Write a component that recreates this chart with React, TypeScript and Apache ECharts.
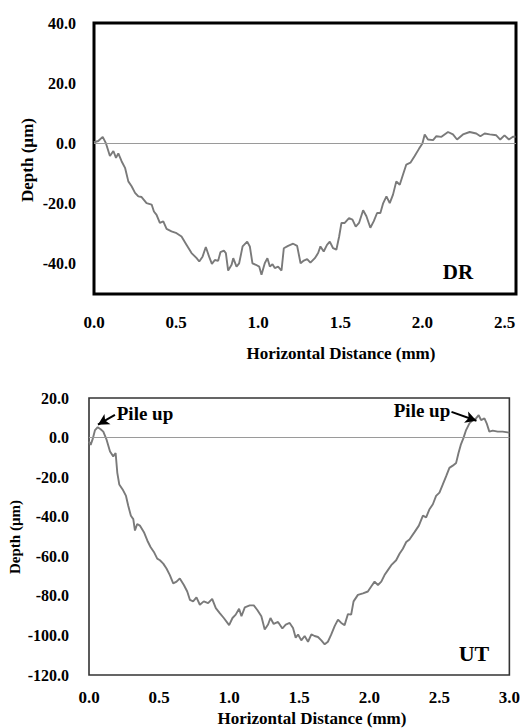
import React, { useEffect, useRef } from "react";
import * as echarts from "echarts";

// DR profile (top): horizontal distance (mm), depth (µm)
const drX = [0, 0.026, 0.053, 0.073, 0.097, 0.118, 0.134, 0.148, 0.168, 0.189, 0.209, 0.229, 0.25, 0.27, 0.29, 0.32, 0.351, 0.365, 0.381, 0.401, 0.422, 0.442, 0.472, 0.503, 0.533, 0.564, 0.594, 0.625, 0.641, 0.661, 0.681, 0.701, 0.718, 0.736, 0.756, 0.77, 0.791, 0.803, 0.817, 0.838, 0.848, 0.868, 0.884, 0.905, 0.933, 0.949, 0.965, 0.986, 1.006, 1.02, 1.04, 1.056, 1.071, 1.087, 1.101, 1.121, 1.142, 1.156, 1.182, 1.213, 1.237, 1.258, 1.278, 1.298, 1.318, 1.345, 1.365, 1.379, 1.399, 1.419, 1.436, 1.456, 1.476, 1.493, 1.507, 1.527, 1.553, 1.574, 1.594, 1.614, 1.639, 1.659, 1.683, 1.704, 1.724, 1.744, 1.76, 1.781, 1.801, 1.821, 1.841, 1.862, 1.882, 1.902, 1.927, 1.953, 1.979, 2.0, 2.014, 2.034, 2.065, 2.085, 2.116, 2.156, 2.186, 2.211, 2.247, 2.288, 2.328, 2.353, 2.379, 2.41, 2.45, 2.474, 2.5, 2.527, 2.551, 2.567];
const drY = [0.4, 0.8, 2.2, 0, -4.2, -2.5, -4.8, -3.3, -5.9, -8.1, -12.6, -14.2, -16.4, -17.6, -17.8, -19.8, -20.3, -22.6, -23.7, -26.4, -25.9, -28.4, -29.2, -29.8, -30.9, -33.7, -36.4, -38.1, -39.2, -37.6, -34.4, -37.6, -40, -38.7, -39, -36.1, -35.6, -36.4, -42.2, -40.3, -38.1, -40.9, -39.8, -34.2, -32.6, -34.2, -39.8, -40.3, -40.9, -43.6, -39.8, -38.1, -40.9, -40.1, -41.4, -40.9, -42.2, -34.8, -34, -33.3, -34, -39.8, -38.9, -38.4, -39.6, -38.1, -36.4, -34.2, -35.9, -33.7, -32.6, -34.8, -35.3, -30.9, -26.4, -26.4, -24.8, -25.3, -27.6, -26.4, -22.2, -24.2, -28, -25.8, -23.1, -23.1, -20, -17.6, -19.8, -17, -12.6, -13.7, -10.3, -7, -6.4, -4.2, -1.8, 0, 3, 1.3, 1.1, 2.4, 2.2, 3.8, 3, 1.3, 3, 3.8, 3.3, 2.4, 3.3, 3, 2.7, 1.3, 2.7, 1.3, 2.2, 2.2];

// UT profile (bottom)
const utX = [0, 0.012, 0.026, 0.043, 0.062, 0.083, 0.102, 0.126, 0.15, 0.173, 0.19, 0.202, 0.216, 0.24, 0.264, 0.28, 0.299, 0.316, 0.328, 0.344, 0.363, 0.392, 0.416, 0.439, 0.463, 0.487, 0.506, 0.53, 0.553, 0.577, 0.601, 0.625, 0.648, 0.677, 0.701, 0.72, 0.743, 0.767, 0.791, 0.819, 0.85, 0.879, 0.905, 0.933, 0.962, 1.0, 1.024, 1.047, 1.071, 1.088, 1.112, 1.147, 1.176, 1.2, 1.23, 1.254, 1.278, 1.295, 1.318, 1.349, 1.38, 1.404, 1.432, 1.456, 1.475, 1.492, 1.515, 1.539, 1.563, 1.587, 1.61, 1.634, 1.658, 1.682, 1.705, 1.729, 1.753, 1.777, 1.8, 1.824, 1.848, 1.871, 1.888, 1.919, 1.955, 1.99, 2.014, 2.038, 2.062, 2.086, 2.109, 2.133, 2.157, 2.192, 2.216, 2.24, 2.264, 2.287, 2.323, 2.354, 2.383, 2.406, 2.43, 2.454, 2.477, 2.501, 2.525, 2.549, 2.572, 2.596, 2.62, 2.637, 2.653, 2.672, 2.691, 2.715, 2.738, 2.762, 2.781, 2.798, 2.822, 2.838, 2.857, 2.881, 2.917, 2.952, 3.0];
const utY = [-2, -3.7, -0.8, 3.8, 5.2, 4.2, 3, -1.2, -7, -9.5, -7.8, -17.8, -23.7, -26.2, -29.5, -34.5, -39.5, -41.2, -47, -43.7, -44.5, -47.8, -52, -55.3, -57.8, -61.2, -62, -63.7, -66.2, -69.5, -73.7, -72.8, -71.2, -74.5, -77.8, -82, -82.8, -80.8, -84.5, -82.8, -83.7, -81.5, -86.2, -88.7, -91.2, -94.8, -91.2, -89.5, -86.5, -90.3, -85.8, -84.8, -84.8, -87, -90.3, -97, -94.5, -91.2, -94.2, -93.2, -96.5, -94.5, -93.7, -96.2, -101.2, -99.5, -102.5, -100.3, -103.2, -99.5, -100.3, -100.8, -102.5, -104.5, -103.2, -99.5, -95.3, -92, -93.7, -94.8, -89.2, -89.5, -82.8, -79.5, -78.7, -77.8, -75.3, -72.8, -74.5, -72.8, -69.5, -67, -64.5, -62, -58.7, -56.2, -52.8, -51.5, -47.8, -44.5, -39.5, -40.3, -36.2, -33.7, -29.5, -27.8, -23.7, -19.5, -15.3, -14.2, -12.8, -7.8, -3.7, -0.3, 3.8, 7.2, 8.8, 9.7, 11.3, 8.8, 9.7, 7.2, 3, 3.5, 3, 3, 2.5];

// Axis settings
const drXRange = [0, 2.57];
const drYRange = [-50, 40];
const utXRange = [0, 3];
const utYRange = [-120, 20];

// Annotation arrows (tail -> head), in data units of the UT panel
const pileLeftArrow = [[0.185, 11.5], [0.064, 6.5]];
const pileRightArrow = [[2.587, 13], [2.765, 8.5]];

const FONT = '"Liberation Serif", "Times New Roman", serif';

export default function App() {
  const ref = useRef<HTMLDivElement>(null);

  useEffect(() => {
    if (!ref.current) return;
    const chart = echarts.init(ref.current, undefined, { renderer: "svg" });

    const labelStyle = {
      fontFamily: FONT,
      fontWeight: "bold" as const,
      fontSize: 16,
      color: "#000",
    };

    const xFmt = (v: number) =>
      Math.abs(v * 2 - Math.round(v * 2)) < 1e-6 ? v.toFixed(1) : "";
    const y20Fmt = (v: number) =>
      Math.abs(v / 20 - Math.round(v / 20)) < 1e-6 ? v.toFixed(1) : "";

    const zeroLine = {
      silent: true,
      symbol: ["none", "none"],
      label: { show: false },
      lineStyle: { color: "#9a9a9a", width: 1.2, type: "solid" },
      data: [{ yAxis: 0 }],
    };

    const lineStyle = { color: "#7a7a7a", width: 1.9 };

    chart.setOption({
      animation: false,
      backgroundColor: "#fff",
      grid: [
        {
          left: 94,
          top: 23,
          width: 422,
          height: 271,
          show: true,
          borderColor: "#000",
          borderWidth: 3,
          backgroundColor: "transparent",
        },
        {
          left: 89,
          top: 398,
          width: 422,
          height: 277,
          show: true,
          borderColor: "#333",
          borderWidth: 1.6,
          backgroundColor: "transparent",
        },
      ],
      xAxis: [
        {
          type: "value",
          gridIndex: 0,
          min: drXRange[0],
          max: drXRange[1],
          interval: 0.5,
          axisLine: { show: false },
          axisTick: { show: false },
          splitLine: { show: false },
          axisLabel: { ...labelStyle, fontSize: 17, margin: 20, formatter: xFmt },
        },
        {
          type: "value",
          gridIndex: 1,
          min: utXRange[0],
          max: utXRange[1],
          interval: 0.5,
          axisLine: { show: false },
          axisTick: { show: false },
          splitLine: { show: false },
          axisLabel: { ...labelStyle, fontSize: 17, margin: 14, formatter: xFmt },
        },
      ],
      yAxis: [
        {
          type: "value",
          gridIndex: 0,
          min: drYRange[0],
          max: drYRange[1],
          interval: 10,
          axisLine: { show: false },
          axisTick: { show: false },
          splitLine: { show: false },
          axisLabel: { ...labelStyle, margin: 18, formatter: y20Fmt },
        },
        {
          type: "value",
          gridIndex: 1,
          min: utYRange[0],
          max: utYRange[1],
          interval: 20,
          axisLine: { show: false },
          axisTick: { show: false },
          splitLine: { show: false },
          axisLabel: { ...labelStyle, margin: 20, formatter: (v: number) => v.toFixed(1) },
        },
      ],
      series: [
        {
          type: "line",
          xAxisIndex: 0,
          yAxisIndex: 0,
          data: drX.map((x, i) => [x, drY[i]]),
          showSymbol: false,
          symbol: "none",
          lineStyle,
          markLine: zeroLine,
          z: 3,
        },
        {
          type: "line",
          xAxisIndex: 1,
          yAxisIndex: 1,
          data: utX.map((x, i) => [x, utY[i]]),
          showSymbol: false,
          symbol: "none",
          lineStyle,
          markLine: zeroLine,
          z: 3,
        },
        {
          type: "line",
          xAxisIndex: 1,
          yAxisIndex: 1,
          data: [],
          markLine: {
            silent: true,
            symbol: ["none", "arrow"],
            symbolSize: [9, 11],
            label: { show: false },
            lineStyle: { color: "#000", width: 2, type: "solid" },
            data: [
              [
                { coord: pileLeftArrow[0] },
                { coord: pileLeftArrow[1] },
              ],
              [
                { coord: pileRightArrow[0] },
                { coord: pileRightArrow[1] },
              ],
            ],
          },
          z: 5,
        },
      ],
      graphic: [
        {
          type: "text",
          x: 341,
          y: 353,
          style: {
            text: "Horizontal Distance (mm)",
            font: `bold 17px ${FONT}`,
            fill: "#000",
            textAlign: "center",
            textVerticalAlign: "middle",
          },
        },
        {
          type: "text",
          x: 27,
          y: 160,
          rotation: Math.PI / 2,
          style: {
            text: "Depth (µm)",
            font: `bold 17px ${FONT}`,
            fill: "#000",
            textAlign: "center",
            textVerticalAlign: "middle",
          },
        },
        {
          type: "text",
          x: 458,
          y: 272,
          style: {
            text: "DR",
            font: `bold 21px ${FONT}`,
            fill: "#000",
            textAlign: "center",
            textVerticalAlign: "middle",
          },
        },
        {
          type: "text",
          x: 312,
          y: 718,
          style: {
            text: "Horizontal Distance (mm)",
            font: `bold 17px ${FONT}`,
            fill: "#000",
            textAlign: "center",
            textVerticalAlign: "middle",
          },
        },
        {
          type: "text",
          x: 15,
          y: 537,
          rotation: Math.PI / 2,
          style: {
            text: "Depth (µm)",
            font: `bold 15px ${FONT}`,
            fill: "#000",
            textAlign: "center",
            textVerticalAlign: "middle",
          },
        },
        {
          type: "text",
          x: 474,
          y: 653,
          style: {
            text: "UT",
            font: `bold 22px ${FONT}`,
            fill: "#000",
            textAlign: "center",
            textVerticalAlign: "middle",
          },
        },
        {
          type: "text",
          x: 145,
          y: 413,
          style: {
            text: "Pile up",
            font: `bold 19px ${FONT}`,
            fill: "#000",
            textAlign: "center",
            textVerticalAlign: "middle",
          },
        },
        {
          type: "text",
          x: 422,
          y: 410,
          style: {
            text: "Pile up",
            font: `bold 19px ${FONT}`,
            fill: "#000",
            textAlign: "center",
            textVerticalAlign: "middle",
          },
        },
      ],
    });

    return () => chart.dispose();
  }, []);

  return (
    <div
      ref={ref}
      style={{ position: "fixed", left: 0, top: 0, width: 523, height: 728 }}
    />
  );
}
